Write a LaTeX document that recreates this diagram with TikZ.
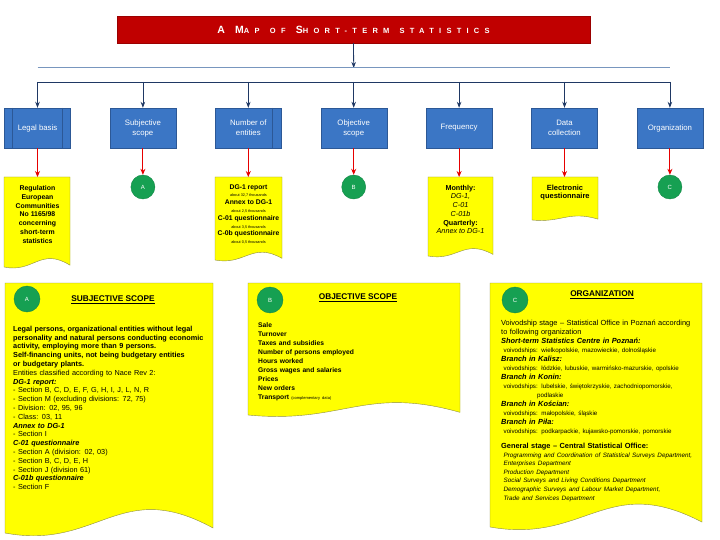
\documentclass[tikz,border=0pt]{standalone}
\usepackage{fontspec}
\setmainfont{Liberation Sans}
\newfontfamily\titlefont[LetterSpace=70]{Liberation Sans}
\usetikzlibrary{arrows.meta,calc}
\definecolor{titlered}{RGB}{192,0,0}
\definecolor{boxblue}{RGB}{59,118,197}
\definecolor{boxborder}{RGB}{44,88,150}
\definecolor{navy}{RGB}{31,56,100}
\definecolor{lightline}{RGB}{120,150,190}
\definecolor{arrowred}{RGB}{230,0,0}
\definecolor{docyellow}{RGB}{255,255,0}
\definecolor{docborder}{RGB}{140,140,70}
\definecolor{circgreen}{RGB}{22,160,82}
\newcommand\smc[1]{{\fontsize{7.5}{9}\selectfont #1}}
\newcommand\docshape[4]{%
  \pgfmathsetmacro\dcw{#3-#1}%
  \path[docfill] (#1,#2) -- (#3,#2) -- (#3,{#2+0.98*#4})
    .. controls ({#1+0.55*\dcw},{#2+0.775*#4}) and ({#1+0.45*\dcw},{#2+1.07*#4}) .. (#1,{#2+#4}) -- cycle;}
\tikzset{
  bluebox/.style={draw=boxborder, fill=boxblue, minimum width=66pt, minimum height=40pt,
    text=white, font=\fontsize{7.8}{10}\selectfont, align=center, inner sep=1pt},
  circ/.style={circle, fill=circgreen, draw=circgreen!85!black, minimum size=24pt, inner sep=0pt,
    text=white, font=\fontsize{6}{7}\selectfont},
  bigcirc/.style={circ, minimum size=26pt},
  docfill/.style={fill=docyellow, draw=docborder, line width=0.4pt},
  busarrow/.style={draw=navy, line width=0.8pt, -{Stealth[length=6pt,width=4.5pt]}},
  redarrow/.style={draw=arrowred, line width=0.9pt, -{Stealth[length=6pt,width=5pt]}},
  doctext/.style={inner sep=0pt, align=center, anchor=north},
  bodytext/.style={inner sep=0pt, align=left, anchor=north west},
  heading/.style={inner sep=0pt, font=\bfseries\fontsize{8.3}{9}\selectfont}
}
\begin{document}
\begin{tikzpicture}[x=1pt,y=-1pt]
\useasboundingbox (0,0) rectangle (720,540);
\fill[white] (0,0) rectangle (720,540);

% title
\node[draw=titlered!80!black, fill=titlered, minimum width=473pt, minimum height=27pt, inner sep=0pt, text=white]
  (title) at (353.5,29.5)
  {\titlefont\bfseries\fontsize{10.5}{12}\selectfont A\ M\smc{AP}\ \smc{OF}\ S\smc{HORT-TERM}\ \smc{STATISTICS}};

% distribution lines
\coordinate (hub) at (353.7,68);
\coordinate (l1) at (37.5,68);
\coordinate (r1) at (669.9,68);
\draw[busarrow] (title.south) -- (hub);
\draw[lightline, line width=1pt] (l1) -- (r1);
\coordinate (busl) at (37.5,82);
\coordinate (busr) at (669.9,82);
\draw[navy, line width=0.8pt] (busl) -- (busr);

% blue boxes
\foreach \i/\x/\t in {1/37.5/{Legal basis}, 2/142.9/{Subjective\\scope}, 3/248.3/{Number of\\entities},
  4/353.7/{Objective\\scope}, 5/459.1/{Frequency}, 6/564.5/{Data\\collection}, 7/669.9/{Organization}}{
  \node[bluebox] (b\i) at (\x,128) {\t};
  \coordinate (bus\i) at (\x,82);
  \draw[busarrow] (bus\i) -- (b\i.north);
}
\draw[boxborder, line width=0.5pt] ($(b1.north west)+(8,0)$) -- ($(b1.south west)+(8,0)$);
\draw[boxborder, line width=0.5pt] ($(b1.north east)+(-8,0)$) -- ($(b1.south east)+(-8,0)$);
\draw[boxborder, line width=0.5pt] ($(b3.north east)+(-9,0)$) -- ($(b3.south east)+(-9,0)$);

% row 2 documents
\docshape{4}{177}{70}{90}
\docshape{215}{177}{282}{83}
\docshape{428}{177}{493}{79}
\docshape{532}{177}{598}{43}
\coordinate (d1) at (37.5,177);
\coordinate (d3) at (248.3,177);
\coordinate (d5) at (459.1,177);
\coordinate (d6) at (564.5,177);

\node[circ] (ca) at (142.9,187) {A};
\node[circ] (cb) at (353.7,187) {B};
\node[circ] (cc) at (669.9,187) {C};

\draw[redarrow] (b1.south) -- (d1);
\draw[redarrow] (b2.south) -- (ca.north);
\draw[redarrow] (b3.south) -- (d3);
\draw[redarrow] (b4.south) -- (cb.north);
\draw[redarrow] (b5.south) -- (d5);
\draw[redarrow] (b6.south) -- (d6);
\draw[redarrow] (b7.south) -- (cc.north);

\node[doctext, font=\bfseries\fontsize{6.9}{8.9}\selectfont] (t1) at (37.5,185)
  {Regulation\\European\\Communities\\No 1165/98\\concerning\\short-term\\statistics};
\node[doctext, font=\bfseries\fontsize{6.8}{7.8}\selectfont] (t3) at (248.5,184.2)
  {DG-1 report\\{\mdseries\fontsize{3.8}{7.8}\selectfont about 32,7 thousands}\\Annex to DG-1\\
   {\mdseries\fontsize{3.8}{7.8}\selectfont about 2,5 thousands}\\C-01 questionnaire\\
   {\mdseries\fontsize{3.8}{7.8}\selectfont about 3,5 thousands}\\C-0b questionnaire\\
   {\mdseries\fontsize{3.8}{7.8}\selectfont about 0,5 thousands}};
\node[doctext, font=\fontsize{7.2}{8.7}\selectfont] (t5) at (460.5,184.8)
  {\textbf{Monthly:}\\\textit{DG-1,}\\\textit{C-01}\\\textit{C-01b}\\\textbf{Quarterly:}\\\textit{Annex to DG-1}};
\node[doctext, font=\bfseries\fontsize{7.5}{8.7}\selectfont] (t6) at (565,184.6)
  {Electronic\\questionnaire};

% row 3 documents
\docshape{5}{283}{213}{250}
\docshape{248}{283}{460}{132}
\docshape{490}{283}{702}{244}

\node[bigcirc] (ca2) at (27,299) {A};
\node[bigcirc] (cb2) at (270,300) {B};
\node[bigcirc] (cc2) at (515,300) {C};

\node[heading] (ha) at (113,300) {\underline{SUBJECTIVE SCOPE}};
\node[heading] (hb) at (358,298) {\underline{OBJECTIVE SCOPE}};
\node[heading] (hc) at (602,295) {\underline{ORGANIZATION}};

\node[bodytext, text width=205pt, font=\fontsize{7.3}{8.8}\selectfont] (ta) at (13,325.8)
  {\textbf{Legal persons, organizational entities without legal}\\
   \textbf{personality and natural persons conducting economic}\\
   \textbf{activity, employing more than 9 persons.}\\
   \textbf{Self-financing units, not being budgetary entities}\\
   \textbf{or budgetary plants.}\\
   Entities classified according to Nace Rev 2:\\
   \textbf{\textit{DG-1 report:}}\\
   - Section B, C, D, E, F, G, H, I, J, L, N, R\\
   - Section M (excluding divisions: 72, 75)\\
   - Division: 02, 95, 96\\
   - Class: 03, 11\\
   \textbf{\textit{Annex to DG-1}}\\
   - Section I\\
   \textbf{\textit{C-01 questionnaire}}\\
   - Section A (division: 02, 03)\\
   - Section B, C, D, E, H\\
   - Section J (division 61)\\
   \textbf{\textit{C-01b questionnaire}}\\
   - Section F};

\node[bodytext, text width=195pt, font=\bfseries\fontsize{6.7}{9}\selectfont] (tb) at (258,322.2)
  {Sale\\Turnover\\Taxes and subsidies\\Number of persons employed\\Hours worked\\
   Gross wages and salaries\\Prices\\New orders\\
   Transport {\mdseries\fontsize{4}{9}\selectfont (complementary data)}};

\node[bodytext, text width=210pt, font=\fontsize{7.4}{9}\selectfont] (tc) at (501,319.8)
  {Voivodship stage -- Statistical Office in Poznań according\\
   to following organization\\
   \textbf{\textit{Short-term Statistics Centre in Poznań:}}\\
   {\fontsize{6.2}{9}\selectfont\ voivodships: wielkopolskie, mazowieckie, dolnośląskie}\\
   \textbf{\textit{Branch in Kalisz:}}\\
   {\fontsize{6.2}{9}\selectfont\ voivodships: łódzkie, lubuskie, warmińsko-mazurskie, opolskie}\\
   \textbf{\textit{Branch in Konin:}}\\
   {\fontsize{6.2}{9}\selectfont\ voivodships: lubelskie, świętokrzyskie, zachodniopomorskie,}\\
   {\fontsize{6.2}{9}\selectfont\hspace*{36pt}podlaskie}\\
   \textbf{\textit{Branch in Kościan:}}\\
   {\fontsize{6.2}{9}\selectfont\ voivodships: małopolskie, śląskie}\\
   \textbf{\textit{Branch in Piła:}}\\
   {\fontsize{6.2}{9}\selectfont\ voivodships: podkarpackie, kujawsko-pomorskie, pomorskie}\\[6pt]
   \textbf{General stage -- Central Statistical Office:}\\
   {\itshape\fontsize{6.3}{8.6}\selectfont\ Programming and Coordination of Statistical Surveys Department,\\
   \ Enterprises Department\\
   \ Production Department\\
   \ Social Surveys and Living Conditions Department\\
   \ Demographic Surveys and Labour Market Department,\\
   \ Trade and Services Department}};
\end{tikzpicture}
\end{document}
